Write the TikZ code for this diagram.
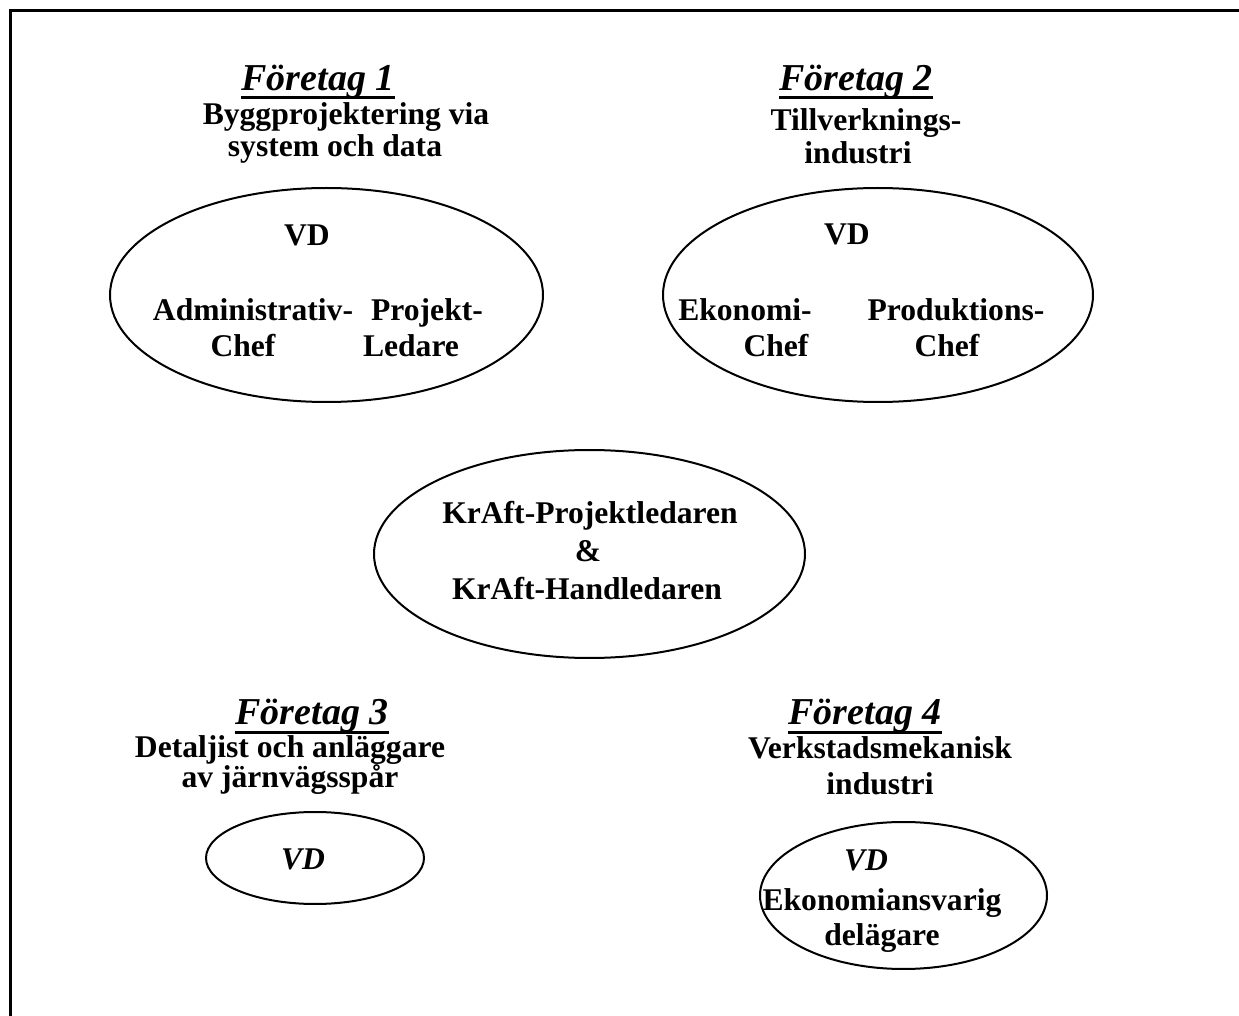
\documentclass[tikz,border=0pt]{standalone}
\usepackage{fontspec}
\setmainfont{Liberation Serif}
\usetikzlibrary{shapes.geometric}
\begin{document}
\begin{tikzpicture}[x=0.5pt,y=-0.5pt,
  txt/.style={inner sep=0pt, anchor=base, font=\fontsize{15.8}{19}\selectfont\bfseries},
  itxt/.style={txt, font=\fontsize{15.8}{19}\selectfont\bfseries\itshape},
  head/.style={inner sep=0pt, anchor=base, font=\fontsize{19}{23}\selectfont\bfseries\itshape},
  oval/.style={draw, ellipse, line width=1pt, inner sep=0pt},
  frameline/.style={line width=1.5pt},
  uline/.style={line width=1.5pt}]
\useasboundingbox (0,0) rectangle (1239,1016);
\coordinate (fb) at (10.5,1016);
\coordinate (fc) at (10.5,10.5);
\coordinate (fr) at (1239,10.5);
\draw[frameline] (fb) -- (fc) -- (fr);

% ellipses
\node[oval, minimum width=216.5pt, minimum height=107pt] (e1) at (326.5,295) {};
\node[oval, minimum width=215pt, minimum height=107pt] (e2) at (878,295) {};
\node[oval, minimum width=215.5pt, minimum height=104pt] (e3) at (589.5,554) {};
\node[oval, minimum width=109pt, minimum height=46pt] (e4) at (315,858) {};
\node[oval, minimum width=143.5pt, minimum height=73.5pt] (e5) at (903.5,895.5) {};

% Företag 1
\node[head] (h1) at (318,91) {Företag 1};
\draw[uline] ([yshift=-3.5pt]h1.base west) -- ([yshift=-3.5pt]h1.base east);
\node[txt] (d1a) at (346,125) {Byggprojektering via};
\node[txt] (d1b) at (335,157) {system och data};
\node[txt] (v1) at (307,246) {VD};
\node[txt] (a1) at (253,321) {Administrativ-};
\node[txt] (a2) at (243,357) {Chef};
\node[txt] (p1) at (427,321) {Projekt-};
\node[txt] (p2) at (411,357) {Ledare};

% Företag 2
\node[head] (h2) at (856,91) {Företag 2};
\draw[uline] ([yshift=-3.5pt]h2.base west) -- ([yshift=-3.5pt]h2.base east);
\node[txt] (d2a) at (866,131) {Tillverknings-};
\node[txt] (d2b) at (858,164) {industri};
\node[txt] (v2) at (847,245) {VD};
\node[txt] (k1) at (745,321) {Ekonomi-};
\node[txt] (k2) at (776,357) {Chef};
\node[txt] (r1) at (956,321) {Produktions-};
\node[txt] (r2) at (947,357) {Chef};

% center
\node[txt] (c1) at (590,524) {KrAft-Projektledaren};
\node[txt] (c2) at (588,562) {\&};
\node[txt] (c3) at (587,600) {KrAft-Handledaren};

% Företag 3
\node[head] (h3) at (312,725) {Företag 3};
\draw[uline] ([yshift=-3.5pt]h3.base west) -- ([yshift=-3.5pt]h3.base east);
\node[txt] (d3a) at (290,757) {Detaljist och anläggare};
\node[txt] (d3b) at (290,787) {av järnvägsspår};
\node[itxt] (v3) at (303,869) {VD};

% Företag 4
\node[head] (h4) at (865,725) {Företag 4};
\draw[uline] ([yshift=-3.5pt]h4.base west) -- ([yshift=-3.5pt]h4.base east);
\node[txt] (d4a) at (880,758) {Verkstadsmekanisk};
\node[txt] (d4b) at (880,794) {industri};
\node[itxt] (v4) at (866,870) {VD};
\node[txt] (o1) at (882,910) {Ekonomiansvarig};
\node[txt] (o2) at (882,945) {delägare};
\end{tikzpicture}
\end{document}
